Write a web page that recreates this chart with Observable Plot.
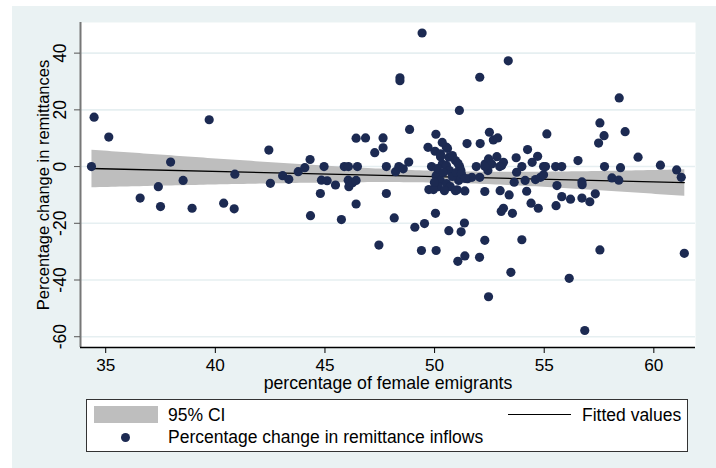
<!DOCTYPE html>
<html>
<head>
<meta charset="utf-8">
<script src="https://cdn.jsdelivr.net/npm/d3@7"></script>
<script src="https://cdn.jsdelivr.net/npm/@observablehq/plot@0.6"></script>
<style>
  html, body { margin: 0; padding: 0; background: #ffffff; }
  body { width: 716px; height: 468px; position: relative; overflow: hidden; font-family: "Liberation Sans", Arial, sans-serif; }
  #bg { position: absolute; left: 12px; top: 6px; width: 704px; height: 462px; background: #eaf2f3; }
  #chart { position: absolute; left: 0; top: 0; }
  #legend { position: absolute; left: 86px; top: 399px; width: 602px; height: 53px; box-sizing: border-box;
            border: 1px solid #333; background: #ffffff; }
  #legend .t { position: absolute; font-size: 17.5px; line-height: 1; color: #000; white-space: nowrap; }
  #legend .sw { position: absolute; left: 7px; top: 6px; width: 64px; height: 17px; background: #bebebe; }
  #legend .ln { position: absolute; left: 421px; top: 14px; width: 63px; height: 0; border-top: 1.3px solid #000; }
  #legend .dt { position: absolute; left: 33.5px; top: 32.8px; width: 9px; height: 9px; border-radius: 50%; background: #1c2a52; }
</style>
</head>
<body>
<div id="bg"></div>
<div id="chart"></div>
<div id="legend">
  <div class="sw"></div>
  <div class="t" style="left:81px; top:7px;">95% CI</div>
  <div class="ln"></div>
  <div class="t" style="left:495px; top:7px;">Fitted values</div>
  <div class="dt"></div>
  <div class="t" style="left:81px; top:28.5px;">Percentage change in remittance inflows</div>
</div>
<script>
// percentage of female emigrants (x) and percentage change in remittance inflows (y)
const femaleShare = [
  34.35, 34.47, 35.14, 36.57, 37.40, 37.50, 37.96, 38.53, 38.94, 39.72,
  40.38, 40.86, 40.89, 42.44, 42.51, 43.07, 43.35, 43.78, 44.08, 44.32,
  44.34, 44.79, 44.96, 44.84, 45.10, 45.48, 45.75, 45.88, 46.07, 46.06,
  46.09, 46.26, 46.42, 46.48, 46.42, 46.42, 46.85, 47.27, 47.65, 47.65,
  47.46, 47.80, 47.80, 48.16, 48.22, 48.37, 48.42, 48.42, 48.57, 48.82,
  48.86, 49.43, 49.10, 49.54, 49.40, 49.70, 49.74, 49.86, 50.04, 50.06,
  50.07, 50.02, 50.27, 50.35, 50.53, 50.65, 50.95, 50.65, 51.21, 51.36,
  51.06, 51.38, 51.13, 51.48, 51.14, 51.20, 51.03, 51.38, 51.10, 51.50,
  51.70, 51.90, 52.06, 52.08, 52.05, 52.29, 52.30, 52.46, 52.43, 52.06,
  52.29, 52.46, 52.50, 52.68, 52.88, 52.84, 52.60, 53.06, 53.14, 52.99,
  53.36, 53.40, 53.14, 53.04, 53.55, 53.48, 53.72, 53.74, 53.63, 53.98,
  53.98, 54.24, 54.13, 54.20, 54.40, 54.73, 54.45, 54.70, 54.60, 54.83,
  54.97, 54.97, 55.06, 55.12, 55.52, 55.58, 55.80, 55.54, 55.80, 56.20,
  56.54, 56.72, 56.73, 56.72, 57.08, 57.33, 56.14, 56.85, 57.54, 57.48,
  57.54, 57.73, 57.75, 58.09, 58.40, 58.42, 58.48, 58.69, 59.28, 60.30,
  61.04, 61.25, 61.39,
  50.27, 50.54, 50.68, 50.07, 50.26, 50.54, 50.72, 50.17, 49.95, 50.45,
  50.95, 50.81, 50.99, 51.22, 51.40, 50.59, 50.81, 50.35, 51.07, 50.12,
  50.40, 49.99, 52.97, 52.29
];
const remitChange = [
   0.0, 17.4, 10.4, -11.1, -7.1, -14.1, 1.6, -4.9, -14.7, 16.5,
 -12.9, -14.9, -2.7, 5.8, -5.9, -3.2, -4.5, -1.8, -0.4, 2.5,
 -17.3, -9.5, 0.0, -4.8, -5.0, -6.5, -18.7, 0.0, 0.0, -4.8,
  -7.1, -5.7, -4.9, 0.0, 10.0, -13.2, 10.1, 4.9, 10.1, 6.6,
 -27.7, 0.0, -9.5, -18.1, -1.8, 0.0, 31.3, 30.3, -0.8, 1.6,
  13.1, 47.1, -21.4, -20.1, -29.6, 6.8, -8.1, 0.0, -16.5, 11.4,
 -29.6, 5.4, 4.5, 0.9, 6.9, 3.3, 2.1, -22.6, -23.0, -19.9,
 -33.4, -31.5, 19.8, 8.1, 0.0, -1.4, -8.2, -8.6, -4.9, -4.3,
  -3.8, 0.0, 31.5, 8.1, -32.0, -26.0, 0.9, 2.7, -1.4, -3.8,
  -8.8, -45.9, 12.1, 9.4, 10.1, 3.5, 0.9, 0.4, 1.5, -8.5,
  37.3, -10.0, -14.7, -15.8, -16.5, -37.3, 3.1, -2.0, -5.5, 0.0,
 -25.8, 6.0, -4.9, -8.7, -12.9, -14.7, 1.5, 3.6, -4.6, -3.8,
  -2.9, 0.0, 0.0, 11.5, 0.0, -6.7, -10.6, -13.8, 0.0, -11.5,
   2.1, -5.4, -6.4, -11.1, -12.4, -9.6, -39.4, -57.8, -29.4, 8.3,
  15.4, 10.9, 0.0, -4.0, -4.8, 24.2, -0.4, 12.3, 3.3, 0.5,
  -1.2, -3.8, -30.6,
   3.5, 0.4, -1.4, -3.2, -4.9, -6.0, -7.1, -7.1, -8.1, -8.5,
  -8.5, -3.5, -2.1, -2.5, -4.2, 6.4, 3.9, 8.5, 1.1, -0.7,
  -2.1, -5.6, 0.0, 0.1
];
const xTicks = [35, 40, 45, 50, 55, 60];
const yTicks = [-60, -40, -20, 0, 20, 40];
const xTitle = "percentage of female emigrants";
const yTitle = "Percentage change in remittances";

const points = femaleShare.map((x, i) => ({x, y: remitChange[i]}));
const xDomain = [33.85, 61.9];
const yDomain = [-63.8, 50.8];

const chart = Plot.plot({
  width: 716,
  height: 395,
  marginLeft: 80,
  marginTop: 22,
  marginRight: 21,
  marginBottom: 48,
  x: {domain: xDomain},
  y: {domain: yDomain},
  style: {fontFamily: "'Liberation Sans', Arial, sans-serif", fontSize: "17.5px", background: "transparent", overflow: "visible", color: "#000"},
  marks: [
    Plot.frame({fill: "white", stroke: null}),
    Plot.gridY(yTicks, {stroke: "#e6eff1", strokeOpacity: 1, strokeWidth: 1.6}),
    Plot.linearRegressionY(points, {x: "x", y: "y", ci: 0.95, fill: "#bebebe", fillOpacity: 1, stroke: "#000", strokeWidth: 1.3}),
    Plot.dot(points, {x: "x", y: "y", r: 4.6, fill: "#1c2a52", stroke: null}),
    Plot.ruleX([xDomain[0]], {stroke: "#777", strokeWidth: 2}),
    Plot.ruleY([yDomain[0]], {stroke: "#000", strokeWidth: 1.5}),
    Plot.axisY(yTicks, {tickSize: 6, stroke: "#555", tickFormat: () => "", label: null}),
    Plot.text(yTicks, {x: xDomain[0], y: d => d, text: d => String(d), rotate: -90, dx: -20, textAnchor: "middle", lineAnchor: "middle", fontSize: 17.5}),
    Plot.axisX(xTicks, {tickSize: 6, tickPadding: 5, stroke: "#000", fontSize: 17.2, label: null}),
    Plot.text([xTitle], {frameAnchor: "bottom", dy: 35.5, textAnchor: "middle", lineAnchor: "middle", fontSize: 17.7}),
    Plot.text([yTitle], {frameAnchor: "left", dx: -37, rotate: -90, textAnchor: "middle", lineAnchor: "middle", fontSize: 16.5})
  ]
});
document.getElementById("chart").appendChild(chart);
</script>
</body>
</html>
